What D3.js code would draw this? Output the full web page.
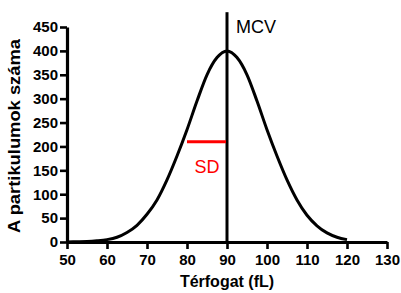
<!DOCTYPE html>
<html>
<head>
<meta charset="utf-8">
<script src="https://cdn.jsdelivr.net/npm/d3@7"></script>
<style>
  body { margin: 0; background: #fff; }
  text { font-family: "Liberation Sans", Arial, sans-serif; }
</style>
</head>
<body>
<svg id="chart"></svg>
<script>
// values
var volume = [50, 52.5, 55, 57.5, 60, 62.5, 65, 67.5, 70, 72.5, 75, 77.5, 80, 82.5, 85, 87.5, 90,
              92.5, 95, 97.5, 100, 102.5, 105, 107.5, 110, 112.5, 115, 117.5, 120];
var counts = [0.2, 0.5, 1, 2.5, 5, 10, 20, 35, 58, 88, 130, 180, 235, 295, 350, 386, 400,
              386, 350, 295, 235, 180, 130, 88, 56, 34, 19, 10, 5];
var xTicks = [50, 60, 70, 80, 90, 100, 110, 120, 130];
var yTicks = [0, 50, 100, 150, 200, 250, 300, 350, 400, 450];
var mcv = 90;
var sdFrom = 80, sdTo = 90, sdLevel = 210;

var W = 401, H = 293;
var svg = d3.select('#chart').attr('width', W).attr('height', H);

var x = d3.scaleLinear().domain([50, 130]).range([67, 387]);
var y = d3.scaleLinear().domain([0, 450]).range([242, 27]);

// axes
var xAxis = svg.append('g')
    .attr('transform', 'translate(0,' + y(0) + ')')
    .call(d3.axisBottom(x).tickValues(xTicks).tickSize(7).tickPadding(5).tickSizeOuter(0));
var yAxis = svg.append('g')
    .attr('transform', 'translate(' + x(50) + ',0)')
    .call(d3.axisLeft(y).tickValues(yTicks).tickSize(7).tickPadding(2).tickSizeOuter(0));

[xAxis, yAxis].forEach(function(a){
    a.select('.domain').attr('stroke', '#000').attr('stroke-width', 3.2);
    a.selectAll('.tick line').attr('stroke', '#000').attr('stroke-width', 2.6);
    a.selectAll('.tick text')
        .attr('fill', '#000')
        .style('font-size', '15px')
        .style('font-weight', 'bold')
        .style('font-family', '"Liberation Sans", Arial, sans-serif');
});

// curve
var line = d3.line()
    .x(function(d, i){ return x(volume[i]); })
    .y(function(d){ return y(d); })
    .curve(d3.curveMonotoneX);

svg.append('path')
    .datum(counts)
    .attr('d', line)
    .attr('fill', 'none')
    .attr('stroke', '#000')
    .attr('stroke-width', 3);

// MCV line
svg.append('line')
    .attr('x1', x(mcv)).attr('x2', x(mcv))
    .attr('y1', y(0)).attr('y2', y(481))
    .attr('stroke', '#000').attr('stroke-width', 3);

svg.append('text')
    .attr('x', x(mcv) + 9).attr('y', 33)
    .style('font-size', '18px')
    .attr('fill', '#000')
    .text('MCV');

// SD marker
svg.append('line')
    .attr('x1', x(sdFrom)).attr('x2', x(sdTo) - 1)
    .attr('y1', y(sdLevel)).attr('y2', y(sdLevel))
    .attr('stroke', '#ff0000').attr('stroke-width', 3);

svg.append('text')
    .attr('x', x((sdFrom + sdTo) / 2)).attr('y', 173)
    .attr('text-anchor', 'middle')
    .style('font-size', '18px')
    .attr('fill', '#ff0000')
    .text('SD');

// axis titles
svg.append('text')
    .attr('x', 227).attr('y', 287)
    .attr('text-anchor', 'middle')
    .style('font-size', '16px')
    .style('font-weight', 'bold')
    .text('Térfogat (fL)');

svg.append('text')
    .attr('transform', 'translate(20,136) rotate(-90)')
    .attr('text-anchor', 'middle')
    .attr('textLength', 194)
    .attr('lengthAdjust', 'spacingAndGlyphs')
    .style('font-size', '17px')
    .style('font-weight', 'bold')
    .text('A partikulumok száma');
</script>
</body>
</html>
